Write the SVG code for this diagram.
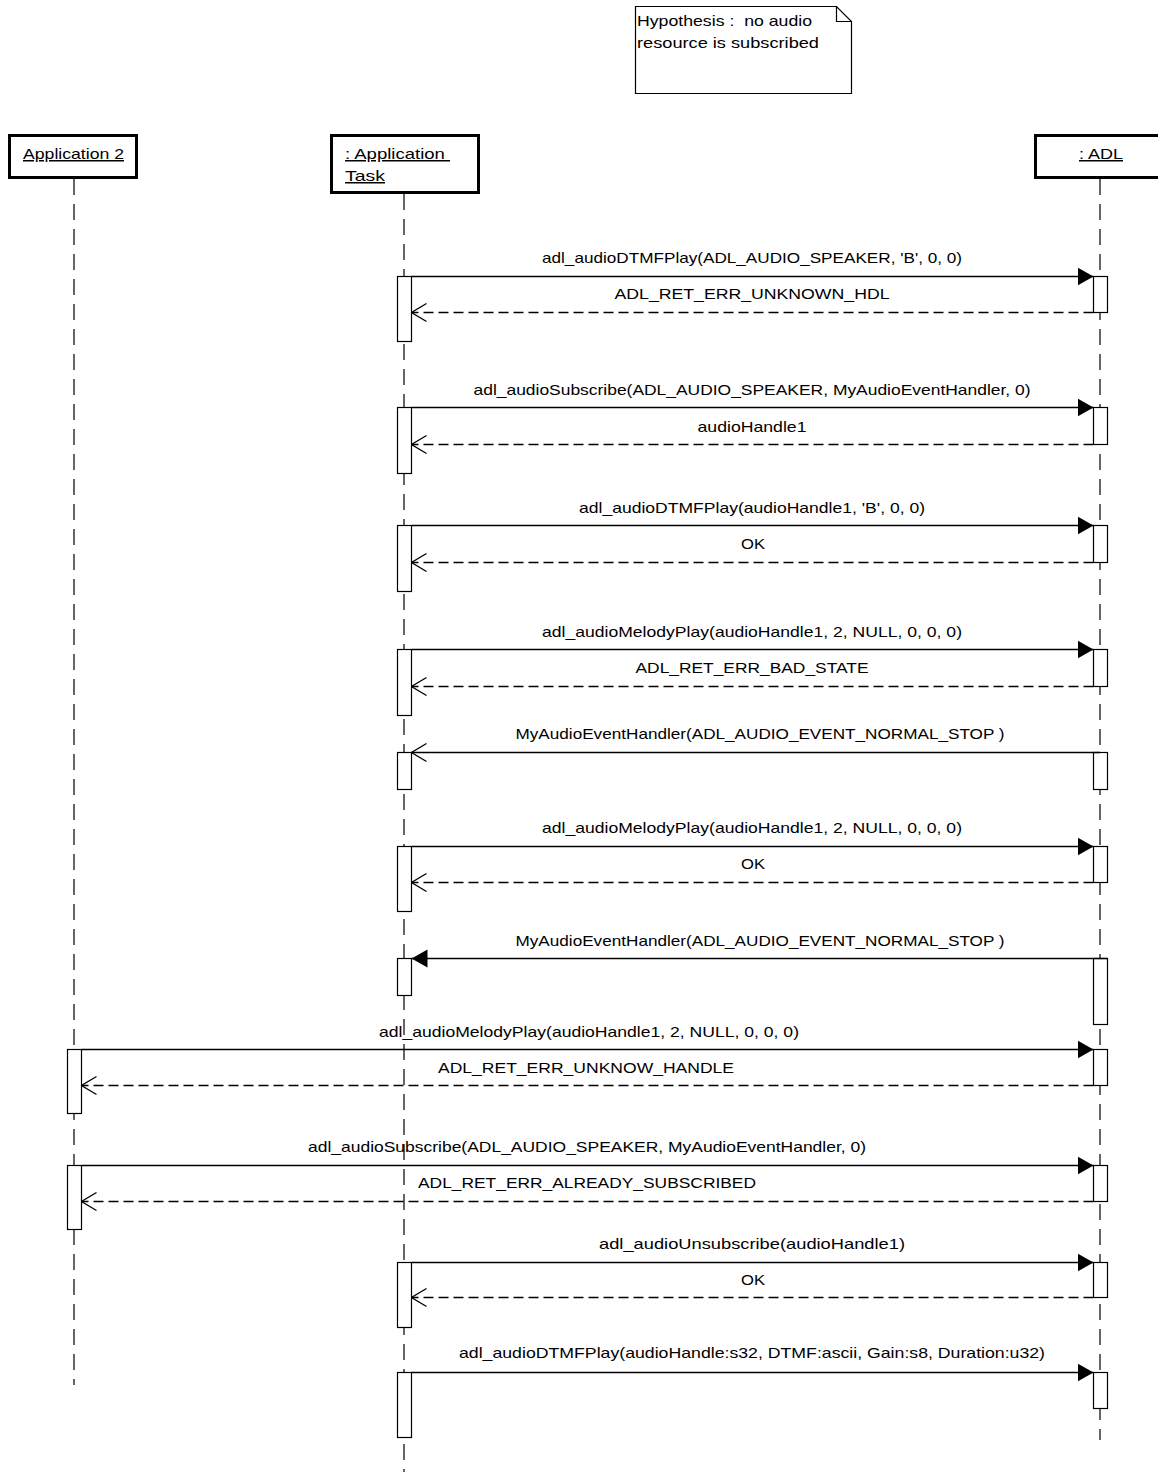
<svg xmlns="http://www.w3.org/2000/svg" width="1158" height="1472" viewBox="0 0 1158 1472">
<defs>
<style>
text{font-family:"Liberation Sans",Arial,sans-serif;font-size:15px;fill:#000;white-space:pre}
.m{text-anchor:middle}
.obj{fill:#fff;stroke:#000;stroke-width:3}
.life{stroke:#000;stroke-width:1.2;stroke-dasharray:16,9;fill:none}
.act{fill:#fff;stroke:#000;stroke-width:1.2}
.call{stroke:#000;stroke-width:1.3;fill:none}
.ret{stroke:#000;stroke-width:1.3;stroke-dasharray:10,5;fill:none}
.open{stroke:#000;stroke-width:1.3;fill:none}
.u{text-decoration:underline}
</style>
<marker id="fill" markerWidth="16" markerHeight="20" refX="16" refY="10" orient="auto" markerUnits="userSpaceOnUse">
<path d="M0,1 L16,10 L0,19 Z" fill="#000"/>
</marker>
<marker id="openh" markerWidth="17" markerHeight="22" refX="16" refY="11" orient="auto" markerUnits="userSpaceOnUse">
<path d="M1,2 L16,11 L1,20" fill="none" stroke="#000" stroke-width="1.3"/>
</marker>
</defs>
<rect width="1158" height="1472" fill="#fff"/>

<g id="note">
<path d="M635.5,6.5 H836.5 L851.5,21.5 V93.5 H635.5 Z" fill="#fff" stroke="#000" stroke-width="1.2"/>
<path d="M836.5,6.5 V21.5 H851.5" fill="none" stroke="#000" stroke-width="1.2"/>
<text x="637" y="26" textLength="175" lengthAdjust="spacingAndGlyphs">Hypothesis :  no audio</text>
<text x="637" y="48" textLength="182" lengthAdjust="spacingAndGlyphs">resource is subscribed</text>
</g>

<g id="lifelines">
<line class="life" x1="74" y1="179" x2="74" y2="1385"/>
<line class="life" x1="404" y1="194" x2="404" y2="1472"/>
<line class="life" x1="1100" y1="179" x2="1100" y2="1440"/>
</g>

<g id="application2">
<rect class="obj" x="9.5" y="135.5" width="127" height="42"/>
<text class="u" x="23" y="159" textLength="101" lengthAdjust="spacingAndGlyphs">Application 2</text>
</g>
<g id="applicationTask">
<rect class="obj" x="331.5" y="135.5" width="147" height="57"/>
<text class="u" x="345" y="159" textLength="105" lengthAdjust="spacingAndGlyphs">: Application </text>
<text class="u" x="345" y="181" textLength="40" lengthAdjust="spacingAndGlyphs">Task</text>
</g>
<g id="adl">
<rect class="obj" x="1035.5" y="135.5" width="130" height="42"/>
<text class="u" x="1079" y="159" textLength="44" lengthAdjust="spacingAndGlyphs">: ADL</text>
</g>

<g id="activations">
<rect class="act" x="397.5" y="276.5" width="14" height="65"/>
<rect class="act" x="1093.5" y="276.5" width="14" height="36"/>
<rect class="act" x="397.5" y="407.5" width="14" height="66"/>
<rect class="act" x="1093.5" y="407.5" width="14" height="37"/>
<rect class="act" x="397.5" y="525.5" width="14" height="66"/>
<rect class="act" x="1093.5" y="525.5" width="14" height="37"/>
<rect class="act" x="397.5" y="649.5" width="14" height="66"/>
<rect class="act" x="1093.5" y="649.5" width="14" height="37"/>
<rect class="act" x="397.5" y="752.5" width="14" height="37"/>
<rect class="act" x="1093.5" y="752.5" width="14" height="37"/>
<rect class="act" x="397.5" y="846.5" width="14" height="65"/>
<rect class="act" x="1093.5" y="846.5" width="14" height="36"/>
<rect class="act" x="397.5" y="958.5" width="14" height="37"/>
<rect class="act" x="1093.5" y="958.5" width="14" height="66"/>
<rect class="act" x="67.5" y="1049.5" width="14" height="64"/>
<rect class="act" x="1093.5" y="1049.5" width="14" height="36"/>
<rect class="act" x="67.5" y="1165.5" width="14" height="64"/>
<rect class="act" x="1093.5" y="1165.5" width="14" height="36"/>
<rect class="act" x="397.5" y="1262.5" width="14" height="65"/>
<rect class="act" x="1093.5" y="1262.5" width="14" height="35"/>
<rect class="act" x="397.5" y="1372.5" width="14" height="65"/>
<rect class="act" x="1093.5" y="1372.5" width="14" height="36"/>
</g>

<g id="connectors">
<line class="call" x1="411.5" y1="276.5" x2="1093.5" y2="276.5" marker-end="url(#fill)"/>
<text class="m" x="752" y="263" textLength="420" lengthAdjust="spacingAndGlyphs">adl_audioDTMFPlay(ADL_AUDIO_SPEAKER, 'B', 0, 0)</text>
<line class="ret" x1="1093.5" y1="312.5" x2="411.5" y2="312.5" marker-end="url(#openh)"/>
<text class="m" x="752" y="299" textLength="275" lengthAdjust="spacingAndGlyphs">ADL_RET_ERR_UNKNOWN_HDL</text>

<line class="call" x1="411.5" y1="407.5" x2="1093.5" y2="407.5" marker-end="url(#fill)"/>
<text class="m" x="752" y="395" textLength="557" lengthAdjust="spacingAndGlyphs">adl_audioSubscribe(ADL_AUDIO_SPEAKER, MyAudioEventHandler, 0)</text>
<line class="ret" x1="1093.5" y1="444.5" x2="411.5" y2="444.5" marker-end="url(#openh)"/>
<text class="m" x="752" y="432" textLength="109" lengthAdjust="spacingAndGlyphs">audioHandle1</text>

<line class="call" x1="411.5" y1="525.5" x2="1093.5" y2="525.5" marker-end="url(#fill)"/>
<text class="m" x="752" y="513" textLength="346" lengthAdjust="spacingAndGlyphs">adl_audioDTMFPlay(audioHandle1, 'B', 0, 0)</text>
<line class="ret" x1="1093.5" y1="562.5" x2="411.5" y2="562.5" marker-end="url(#openh)"/>
<text class="m" x="753" y="549" textLength="24" lengthAdjust="spacingAndGlyphs">OK</text>

<line class="call" x1="411.5" y1="649.5" x2="1093.5" y2="649.5" marker-end="url(#fill)"/>
<text class="m" x="752" y="637" textLength="420" lengthAdjust="spacingAndGlyphs">adl_audioMelodyPlay(audioHandle1, 2, NULL, 0, 0, 0)</text>
<line class="ret" x1="1093.5" y1="686.5" x2="411.5" y2="686.5" marker-end="url(#openh)"/>
<text class="m" x="752" y="673" textLength="233" lengthAdjust="spacingAndGlyphs">ADL_RET_ERR_BAD_STATE</text>

<line class="call" x1="1100" y1="752.5" x2="411.5" y2="752.5" marker-end="url(#openh)"/>
<text class="m" x="760" y="739" textLength="489" lengthAdjust="spacingAndGlyphs">MyAudioEventHandler(ADL_AUDIO_EVENT_NORMAL_STOP )</text>

<line class="call" x1="411.5" y1="846.5" x2="1093.5" y2="846.5" marker-end="url(#fill)"/>
<text class="m" x="752" y="833" textLength="420" lengthAdjust="spacingAndGlyphs">adl_audioMelodyPlay(audioHandle1, 2, NULL, 0, 0, 0)</text>
<line class="ret" x1="1093.5" y1="882.5" x2="411.5" y2="882.5" marker-end="url(#openh)"/>
<text class="m" x="753" y="869" textLength="24" lengthAdjust="spacingAndGlyphs">OK</text>

<line class="call" x1="1107.5" y1="958.5" x2="411.5" y2="958.5" marker-end="url(#fill)"/>
<text class="m" x="760" y="946" textLength="489" lengthAdjust="spacingAndGlyphs">MyAudioEventHandler(ADL_AUDIO_EVENT_NORMAL_STOP )</text>

<line class="call" x1="81.5" y1="1049.5" x2="1093.5" y2="1049.5" marker-end="url(#fill)"/>
<text class="m" x="589" y="1037" textLength="420" lengthAdjust="spacingAndGlyphs">adl_audioMelodyPlay(audioHandle1, 2, NULL, 0, 0, 0)</text>
<line class="ret" x1="1093.5" y1="1085.5" x2="81.5" y2="1085.5" marker-end="url(#openh)"/>
<text class="m" x="586" y="1073" textLength="296" lengthAdjust="spacingAndGlyphs">ADL_RET_ERR_UNKNOW_HANDLE</text>

<line class="call" x1="81.5" y1="1165.5" x2="1093.5" y2="1165.5" marker-end="url(#fill)"/>
<text class="m" x="587" y="1152" textLength="558" lengthAdjust="spacingAndGlyphs">adl_audioSubscribe(ADL_AUDIO_SPEAKER, MyAudioEventHandler, 0)</text>
<line class="ret" x1="1093.5" y1="1201.5" x2="81.5" y2="1201.5" marker-end="url(#openh)"/>
<text class="m" x="587" y="1188" textLength="338" lengthAdjust="spacingAndGlyphs">ADL_RET_ERR_ALREADY_SUBSCRIBED</text>

<line class="call" x1="411.5" y1="1262.5" x2="1093.5" y2="1262.5" marker-end="url(#fill)"/>
<text class="m" x="752" y="1249" textLength="306" lengthAdjust="spacingAndGlyphs">adl_audioUnsubscribe(audioHandle1)</text>
<line class="ret" x1="1093.5" y1="1297.5" x2="411.5" y2="1297.5" marker-end="url(#openh)"/>
<text class="m" x="753" y="1285" textLength="24" lengthAdjust="spacingAndGlyphs">OK</text>

<line class="call" x1="411.5" y1="1372.5" x2="1093.5" y2="1372.5" marker-end="url(#fill)"/>
<text class="m" x="752" y="1358" textLength="586" lengthAdjust="spacingAndGlyphs">adl_audioDTMFPlay(audioHandle:s32, DTMF:ascii, Gain:s8, Duration:u32)</text>
</g>
</svg>
